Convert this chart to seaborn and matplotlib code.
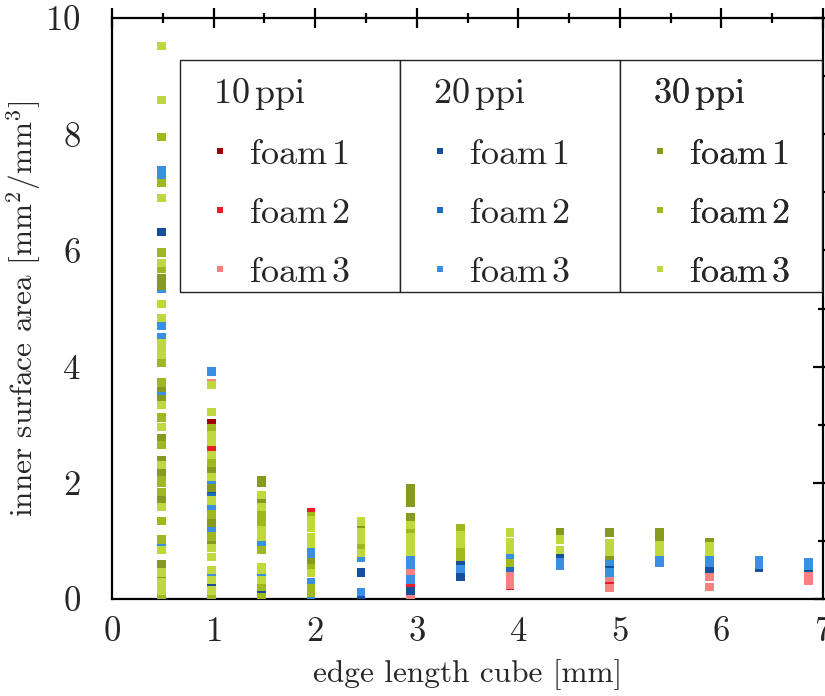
import matplotlib
matplotlib.use("Agg")
import matplotlib.pyplot as plt
from matplotlib.lines import Line2D
from matplotlib.patches import Rectangle
from matplotlib.ticker import MultipleLocator
import seaborn as sns
import pandas as pd

# ---------------- data ----------------
edge = [0.49, 0.98, 1.47, 1.96, 2.45, 2.94, 3.43, 3.92, 4.41, 4.90, 5.39, 5.88, 6.37, 6.86]

ppi10_foam1 = [[0.02], [3.03, 2.58], [], [], [], [0.21], [], [], [], [], [], [], [], [0.50]]
ppi10_foam2 = [[0.04], [2.60], [], [1.50, 0.88], [], [0.28], [], [0.22], [], [0.28], [], [0.47], [], []]
ppi10_foam3 = [[0.03], [3.72], [1.50], [0.70], [], [0.45, 0.07], [], [0.45, 0.33, 0.24], [],
               [0.36, 0.19], [], [0.45, 0.38, 0.21], [], [0.46, 0.40, 0.31]]

ppi20_foam1 = [[6.32], [1.79, 0.22], [1.48, 0.09], [], [0.46, 0.07], [0.71, 0.14], [0.60, 0.38], [],
               [0.72], [0.55], [], [0.52], [0.53], [0.53]]
ppi20_foam2 = [[0.05], [1.75], [], [], [], [], [], [0.53], [], [], [], [], [], []]
ppi20_foam3 = [[7.38, 7.26, 5.34, 4.70, 4.51, 3.51, 1.84, 0.95, 0.40], [3.92, 2.01, 1.57, 1.17, 0.40],
               [0.98, 0.38], [0.81, 0.74, 0.29, 0.03], [0.71, 0.12], [0.69, 0.59, 0.34], [0.52],
               [0.72], [0.64, 0.57], [0.64, 0.46], [0.71, 0.62], [0.71, 0.62], [0.67, 0.59],
               [0.64, 0.58]]

ppi30_foam1 = [[5.52, 5.40, 3.63, 3.44, 2.77, 2.39, 2.17, 1.70, 0.59, 0.36],
               [2.22, 1.91, 1.31, 0.96], [2.05, 2.00, 1.67], [0.64], [1.22],
               [1.91, 1.82, 1.74, 1.65, 1.41], [], [], [1.14], [1.14, 0.74], [1.15, 1.07],
               [0.98], [], []]
ppi30_foam2 = [[7.95, 7.16, 5.96, 5.68, 4.06, 3.73, 3.12, 2.65, 2.05, 2.00, 1.84, 1.34, 1.02, 0.07],
               [2.94, 2.34, 1.45, 1.08, 0.07], [1.45, 1.33, 0.84, 0.21, 0.03],
               [1.43, 0.53, 0.19, 0.10], [0.90], [1.19], [1.22, 0.81, 0.72], [0.62], [], [],
               [], [], [], []]
ppi30_foam3 = [[9.52, 8.59, 6.90, 5.78, 5.08, 4.84, 4.40, 4.30, 4.20, 3.34, 2.96, 2.31, 1.58,
                0.84, 0.46, 0.28, 0.15],
               [3.68, 3.22, 2.82, 2.70, 2.48, 2.10, 1.70, 0.88, 0.72, 0.50, 0.33, 0.15],
               [1.79, 1.58, 1.19, 1.07, 0.55, 0.50, 0.33], [1.36, 1.22, 1.07, 0.96, 0.45],
               [1.33, 1.14, 1.02, 0.79], [1.27, 1.07, 0.93, 0.81], [1.10, 0.96],
               [1.14, 0.98, 0.84], [1.02, 0.84], [0.96, 0.81], [0.93, 0.81], [0.90, 0.81], [], []]

groups = ["10 ppi", "20 ppi", "30 ppi"]
foams = ["foam 1", "foam 2", "foam 3"]
series_data = {
    ("10 ppi", "foam 1"): ppi10_foam1, ("10 ppi", "foam 2"): ppi10_foam2, ("10 ppi", "foam 3"): ppi10_foam3,
    ("20 ppi", "foam 1"): ppi20_foam1, ("20 ppi", "foam 2"): ppi20_foam2, ("20 ppi", "foam 3"): ppi20_foam3,
    ("30 ppi", "foam 1"): ppi30_foam1, ("30 ppi", "foam 2"): ppi30_foam2, ("30 ppi", "foam 3"): ppi30_foam3,
}
colors = {
    ("10 ppi", "foam 1"): "#a00000", ("10 ppi", "foam 2"): "#ec1c24", ("10 ppi", "foam 3"): "#f88080",
    ("20 ppi", "foam 1"): "#164f9e", ("20 ppi", "foam 2"): "#1f6cc4", ("20 ppi", "foam 3"): "#3a8fe2",
    ("30 ppi", "foam 1"): "#879a1e", ("30 ppi", "foam 2"): "#9fb81e", ("30 ppi", "foam 3"): "#c0d83c",
}

rows = []
for key, vals in series_data.items():
    for x, ys in zip(edge, vals):
        for y in ys:
            rows.append({"edge": x, "area": y, "series": f"{key[0]} {key[1]}"})
df = pd.DataFrame(rows)
hue_order = [f"{g} {f}" for g in groups for f in foams]
palette = {f"{k[0]} {k[1]}": c for k, c in colors.items()}

# ---------------- style ----------------
sns.set_style("white")
plt.rcParams["font.family"] = "serif"
plt.rcParams["font.serif"] = ["cmr10"]
plt.rcParams["mathtext.fontset"] = "cm"
plt.rcParams["axes.formatter.use_mathtext"] = True
plt.rcParams["axes.unicode_minus"] = False

FS_TICK = 25
FS_LAB = 22.5
FS_LEG = 26
fig = plt.figure(figsize=(8.25, 6.96), dpi=100)
ax = fig.add_axes([112 / 825, 1 - 599 / 696, (823 - 112) / 825, (599 - 18) / 696])

sns.scatterplot(data=df, x="edge", y="area", hue="series", hue_order=hue_order,
                palette=palette, marker="s", s=38, linewidth=0, legend=False, ax=ax,
                zorder=3)

ax.set_xlim(0, 7)
ax.set_ylim(0, 10)
ax.xaxis.set_major_locator(MultipleLocator(1))
ax.xaxis.set_minor_locator(MultipleLocator(0.5))
ax.yaxis.set_major_locator(MultipleLocator(2))
ax.yaxis.set_minor_locator(MultipleLocator(1))
ax.tick_params(which="both", direction="inout", top=True, right=True, width=1.6,
               color="black", labelsize=FS_TICK)
ax.tick_params(which="major", length=15)
ax.tick_params(which="minor", length=7.5)
ax.tick_params(axis="x", which="major", pad=5)
ax.tick_params(axis="y", which="major", pad=15)
for s in ax.spines.values():
    s.set_linewidth(1.6)
    s.set_color("black")

ax.set_xlabel("edge length cube [mm]", fontsize=FS_LAB, labelpad=8)
ax.set_ylabel(r"inner surface area [mm$^2$/mm$^3$]", fontsize=FS_LAB)
ax.yaxis.set_label_coords(-0.096, 0.5)

# ---------------- legend ----------------
def ax_x(px):
    return (px - 112) / (823 - 112)

def ax_y(py):
    return (599 - py) / (599 - 18)

box_edges = [180, 400, 620, 822]
for i in range(3):
    ax.add_patch(Rectangle((ax_x(box_edges[i]), ax_y(292)),
                           ax_x(box_edges[i + 1]) - ax_x(box_edges[i]), ax_y(60) - ax_y(292),
                           transform=ax.transAxes, facecolor="white", edgecolor="#222222",
                           linewidth=1.0, zorder=5))

for i, g in enumerate(groups):
    handles = [Line2D([], [], marker="s", linestyle="", markersize=5, markeredgewidth=0,
                      color=colors[(g, f)]) for f in foams]
    labels = [f.replace(" ", r"$\,$") for f in foams]
    leg = ax.legend(handles, labels, title=g.replace(" ", r"$\,$"), loc="upper left",
                    bbox_to_anchor=(ax_x(box_edges[i] + 33), ax_y(76)),
                    frameon=False, fontsize=FS_LEG, title_fontsize=FS_LEG, alignment="left",
                    handlelength=0.4, handletextpad=0.6, labelspacing=0.74,
                    borderpad=0, borderaxespad=0)
    leg.set_zorder(6)
    ax.add_artist(leg)

fig.savefig("out.png", dpi=100)
